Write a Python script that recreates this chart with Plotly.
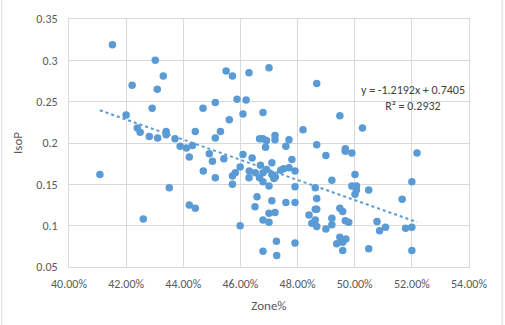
import plotly.graph_objects as go

# Zone% (as fractions) and IsoP values for each observation
zone = [
    0.4152, 0.4302, 0.4330, 0.4221, 0.4309, 0.4291, 0.4200, 0.4108, 0.4239, 0.4249,
    0.4281, 0.4310, 0.4340, 0.4340, 0.4371, 0.4442, 0.4389, 0.4411, 0.4432, 0.4421,
    0.4469, 0.4512, 0.4550, 0.4572, 0.4588, 0.4561, 0.4530, 0.4512, 0.4491, 0.4502,
    0.4542, 0.4470, 0.4512, 0.4572, 0.4582, 0.4572, 0.4351, 0.4421, 0.4442, 0.4260,
    0.4630, 0.4700, 0.4867, 0.4620, 0.4609, 0.4679, 0.4948, 0.5027, 0.4819, 0.4667,
    0.4679, 0.4691, 0.4721, 0.4721, 0.4770, 0.4688, 0.4759, 0.4867, 0.4967, 0.4967,
    0.4990, 0.4899, 0.4609, 0.4641, 0.4599, 0.4670, 0.4691, 0.4710, 0.4780, 0.4631,
    0.4630, 0.4652, 0.4679, 0.4667, 0.4679, 0.4700, 0.4710, 0.4722, 0.4717, 0.4741,
    0.4751, 0.4770, 0.4791, 0.4791, 0.4862, 0.4920, 0.5001, 0.4990, 0.5006, 0.5006,
    0.5001, 0.5049, 0.4658, 0.4651, 0.4710, 0.4759, 0.4791, 0.4867, 0.4862, 0.4867,
    0.4700, 0.4721, 0.4679, 0.4700, 0.4599, 0.4840, 0.4862, 0.4850, 0.4867, 0.4920,
    0.4920, 0.4899, 0.4948, 0.4958, 0.4967, 0.4979, 0.5078, 0.5087, 0.5108, 0.5178,
    0.5166, 0.4726, 0.4791, 0.4679, 0.4727, 0.4937, 0.4948, 0.4958, 0.4969, 0.4958,
    0.5049, 0.5218, 0.5200, 0.5200, 0.5200,
]
isop = [
    0.319, 0.300, 0.281, 0.270, 0.265, 0.242, 0.234, 0.162, 0.218, 0.213,
    0.208, 0.206, 0.214, 0.210, 0.205, 0.214, 0.196, 0.194, 0.197, 0.183,
    0.242, 0.249, 0.287, 0.281, 0.253, 0.228, 0.214, 0.206, 0.187, 0.178,
    0.181, 0.166, 0.158, 0.160, 0.164, 0.150, 0.146, 0.125, 0.121, 0.108,
    0.285, 0.291, 0.272, 0.252, 0.235, 0.237, 0.233, 0.218, 0.216, 0.205,
    0.205, 0.203, 0.209, 0.204, 0.204, 0.195, 0.196, 0.198, 0.193, 0.190,
    0.188, 0.185, 0.186, 0.182, 0.171, 0.173, 0.168, 0.176, 0.180, 0.166,
    0.158, 0.164, 0.164, 0.158, 0.153, 0.148, 0.162, 0.159, 0.157, 0.167,
    0.169, 0.170, 0.166, 0.147, 0.146, 0.155, 0.162, 0.148, 0.148, 0.143,
    0.138, 0.143, 0.135, 0.123, 0.130, 0.128, 0.128, 0.133, 0.120, 0.120,
    0.115, 0.116, 0.107, 0.104, 0.100, 0.113, 0.107, 0.103, 0.099, 0.109,
    0.101, 0.096, 0.121, 0.117, 0.106, 0.104, 0.105, 0.094, 0.098, 0.097,
    0.132, 0.081, 0.079, 0.069, 0.064, 0.078, 0.086, 0.080, 0.084, 0.070,
    0.072, 0.188, 0.153, 0.098, 0.070,
]

# Linear trendline coefficients
slope = -1.2192
intercept = 0.7405
r_squared = 0.2932

x_ticks = [0.40, 0.42, 0.44, 0.46, 0.48, 0.50, 0.52, 0.54]
y_ticks = [0.05, 0.10, 0.15, 0.20, 0.25, 0.30, 0.35]

blue = "#5B9BD5"
grid = "#D9D9D9"
text_grey = "#595959"
font_family = "Carlito, Lato, sans-serif"

x_lo, x_hi = min(zone), max(zone)
trend_x = [x_lo, x_hi]
trend_y = [slope * v + intercept for v in trend_x]

fig = go.Figure()
fig.add_trace(go.Scatter(
    x=zone, y=isop, mode="markers",
    marker=dict(color=blue, size=7.5, line=dict(width=0)),
    showlegend=False, hoverinfo="skip",
))
fig.add_trace(go.Scatter(
    x=trend_x, y=trend_y, mode="lines",
    line=dict(color=blue, width=2, dash="dot"),
    showlegend=False, hoverinfo="skip",
))

fig.add_annotation(
    xref="paper", yref="paper", x=0.86, y=0.68,
    text=f"y = {slope:.4f}x + {intercept:.4f}<br>R² = {r_squared:.4f}",
    showarrow=False, align="center", xanchor="center", yanchor="middle",
    font=dict(family=font_family, size=12, color="#404040"),
)

# Outer chart frame (left and right edges)
for px in (-0.168, 1.083):
    fig.add_shape(type="line", xref="paper", yref="paper",
                  x0=px, x1=px, y0=-0.5, y1=1.5,
                  line=dict(color=grid, width=1))

fig.update_layout(
    width=505, height=325,
    margin=dict(l=69, r=36, t=14, b=58),
    paper_bgcolor="white", plot_bgcolor="white",
    font=dict(family=font_family, size=12, color=text_grey),
    xaxis=dict(
        range=[0.40, 0.54], tickvals=x_ticks, tickformat=".2%",
        showgrid=True, gridcolor=grid, gridwidth=1,
        showline=True, linecolor=grid, mirror=True,
        zeroline=False, ticks="", ticklabelstandoff=6,
        title=dict(text="Zone%", font=dict(size=13, color=text_grey), standoff=10),
    ),
    yaxis=dict(
        range=[0.05, 0.35], tickvals=y_ticks, tickformat="",
        ticktext=[f"{v:g}" for v in y_ticks],
        showgrid=True, gridcolor=grid, gridwidth=1,
        showline=True, linecolor=grid, mirror=True,
        zeroline=False, ticks="", ticklabelstandoff=8,
        title=dict(text="IsoP", font=dict(size=13, color=text_grey), standoff=10),
    ),
)

fig.write_html("out.html")
